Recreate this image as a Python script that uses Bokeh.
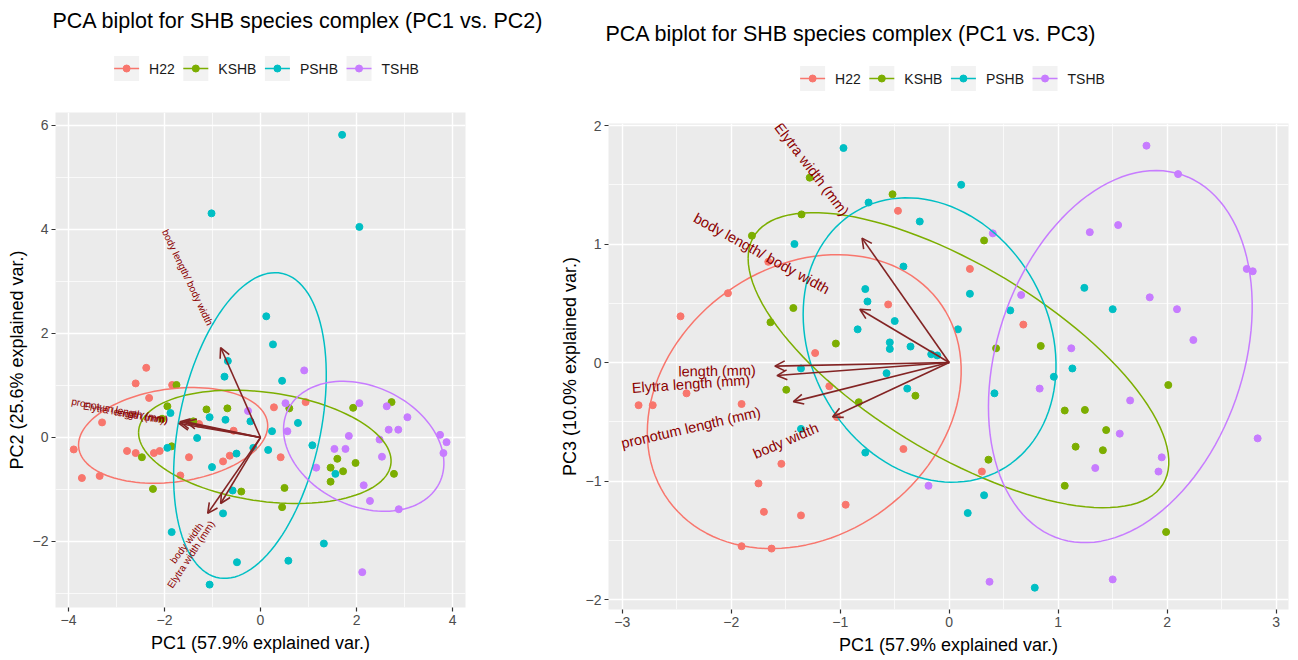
import numpy as np
from bokeh.plotting import figure
from bokeh.layouts import row, column
from bokeh.models import (ColumnDataSource, Arrow, OpenHead, FixedTicker, Range1d)
from bokeh.core.properties import value
from bokeh.embed import file_html
from bokeh.resources import INLINE

FONT = "Liberation Sans"
groups = ["H22", "KSHB", "PSHB", "TSHB"]
colors = ["#F8766D", "#7CAE00", "#00BFC4", "#C77CFF"]

# ---------------- PC1 vs PC2 scores ----------------
h22_pc1a = [-2.38, -2.60, -1.84, -2.32, -3.30, -1.28, -0.56, -3.89, -2.78, -2.60, -2.22, -2.10,
            -1.49, -0.78, -0.64, -3.72, -3.35, -1.67, 0.42, 0.28, 0.94]
h22_pc2 = [1.34, 1.04, 1.01, 0.76, 0.29, 0.26, 0.13, -0.23, -0.26, -0.30, -0.30, -0.26,
           -0.38, -0.46, -0.35, -0.78, -0.74, -0.73, -0.38, 0.58, 0.68]
kshb_pc1a = [-1.75, -1.94, -1.125, -0.69, -2.05, -1.40, -2.47, -1.85, -2.24, -0.40, 0.45, 0.60,
             1.93, 2.73, 1.60, 1.98, 1.46, 1.72, 1.46, 2.78, 0.50]
kshb_pc2 = [1.01, 0.60, 0.54, 0.56, 0.36, 0.31, -0.38, -0.17, -0.99, -1.04, -1.34, 0.56,
            0.57, 0.68, -0.41, -0.49, -0.58, -0.65, -0.85, -0.70, -0.97]
pshb_pc1a = [-1.02, 0.12, 0.26, -0.68, -0.75, 1.70, 2.06, 0.45, -1.875, -1.06, -0.73, -0.21,
             -1.32, 0.24, -1.94, -1.01, -0.50, -0.15, 0.16, -0.58, -0.78, -1.85, -0.49, -1.06,
             0.78, 1.08, 1.56, 1.32, 0.58]
pshb_pc2 = [4.31, 2.33, 1.79, 1.47, 1.17, 5.82, 4.05, 1.09, 0.47, 0.39, 0.34, 0.31,
            -0.01, 0.12, -0.20, -0.57, -0.31, -0.20, -0.24, -1.02, -1.46, -1.82, -2.40, -2.83,
            0.28, -0.15, -0.70, -2.04, -2.37]
tshb_pc1a = [0.91, -0.26, 0.52, 0.56, 2.06, 2.63, 3.06, 2.67, 2.87, 1.84, 2.48, 3.74, 3.875,
             3.81, 1.54, 1.77, 2.53, 1.16, 2.15, 2.28, 2.88, 2.12]
tshb_pc2 = [1.29, 0.51, 0.66, 0.12, 0.66, 0.60, 0.39, 0.15, 0.15, 0.03, -0.04, 0.05, -0.09,
            -0.30, -0.22, -0.22, -0.37, -0.58, -0.92, -1.22, -1.38, -2.59]

# ---------------- PC1 vs PC3 scores ----------------
h22_pc1b = [-0.47, -1.66, -2.03, -2.465, -0.56, -1.23, -2.41, -2.85, -2.72, -1.905, -1.10, -1.03,
            -0.42, -1.54, -1.75, -0.95, -1.70, -1.36, -1.905, -1.63, 0.19, 0.68, 0.30]
h22_pc3 = [1.28, 0.85, 0.585, 0.39, 0.49, 0.08, -0.26, -0.36, -0.36, -0.35, -0.20, -0.46,
           -0.73, -0.855, -1.02, -1.20, -1.26, -1.29, -1.55, -1.57, 0.79, 0.32, -0.92]
kshb_pc1b = [-1.28, -0.52, -1.355, -1.81, -1.43, -1.64, -1.04, -1.495, -0.31, -0.83, 0.32, 0.43,
             0.84, 2.01, 1.06, 1.245, 1.44, 1.16, 1.41, 0.36, 1.06, 1.99]
kshb_pc3 = [1.56, 1.42, 1.25, 1.07, 0.46, 0.34, 0.16, -0.23, -0.28, -0.335, 1.03, 0.12,
            0.14, -0.19, -0.405, -0.40, -0.57, -0.71, -0.74, -0.82, -1.04, -1.43]
pshb_pc1b = [-0.97, -0.74, -0.27, -1.42, -0.42, -0.77, -0.75, -0.50, -0.84, -0.545, -0.545,
             -0.355, -0.165, -0.11, -1.36, -0.575, 0.08, -0.385, -1.36, -0.77, 0.11, 0.19, 0.56,
             1.13, 0.96, 1.24, 1.50, 0.415, 0.32, 0.17, 0.785]
pshb_pc3 = [1.81, 1.35, 1.19, 1.00, 0.81, 0.62, 0.515, 0.35, 0.28, 0.17, 0.115, 0.135, 0.07,
            0.06, -0.05, -0.09, 0.28, -0.22, -0.56, -0.76, 1.50, 0.58, 0.44, -0.05, -0.12, 0.63,
            0.45, -0.26, -1.12, -1.27, -1.90]
tshb_pc1b = [0.40, 0.66, 1.12, 1.81, 2.10, 1.29, 1.55, 2.73, 2.785, 1.84, 2.09, 2.24, 0.83,
             1.66, 1.565, 1.95, 1.34, 1.92, 2.83, 0.37, 1.50, -0.19]
tshb_pc3 = [1.09, 0.57, 0.12, 1.83, 1.59, 1.10, 1.16, 0.79, 0.77, 0.55, 0.45, 0.19, -0.22,
            -0.32, -0.60, -0.80, -0.89, -0.92, -0.64, -1.85, -1.83, -1.04]

# ---------------- 68% concentration ellipses (centre, half extents, correlation) -------------
ell12_cx = [-1.82, 0.09, -0.22, 2.15]
ell12_cy = [0.04, -0.18, 0.23, -0.17]
ell12_rx = [1.97, 2.63, 1.59, 1.67]
ell12_ry = [0.92, 1.09, 2.94, 1.25]
ell12_rho = [0.20, -0.25, 0.33, -0.26]

ell13_cx = [-1.33, 0.085, -0.18, 1.57]
ell13_cy = [-0.33, 0.02, 0.19, 0.05]
ell13_rx = [1.44, 1.93, 1.16, 1.21]
ell13_ry = [1.24, 1.245, 1.20, 1.57]
ell13_rho = [0.21, -0.69, -0.18, 0.27]

# ---------------- variable loadings ----------------
var_names = ["body length/ body width", "pronotum length (mm)", "Elytra length (mm)",
             "length (mm)", "body width", "Elytra width (mm)"]
load12_x = [-0.83, -1.55, -1.68, -1.70, -1.10, -0.83]
load12_y = [1.73, 0.30, 0.30, 0.27, -1.46, -1.27]
lab12_x = [-1.52, -2.93, -2.85, -2.48, -1.54, -1.45]
lab12_y = [3.08, 0.52, 0.47, 0.41, -2.03, -2.25]

load13_x = [-0.82, -1.43, -1.58, -1.60, -1.07, -0.80]
load13_y = [0.45, -0.33, -0.11, -0.03, -0.46, 1.05]
lab13_x = [-1.72, -2.37, -2.37, -2.13, -1.50, -1.26]
lab13_y = [0.92, -0.55, -0.18, -0.07, -0.66, 1.63]

# approximate glyph advance widths (em) used to lay out the legend row
CHAR_W = {"H": 0.722, "2": 0.556, "K": 0.667, "S": 0.667, "B": 0.667, "P": 0.667, "T": 0.611}


def ellipse_xy(cx, cy, rx, ry, rho, n=120):
    t = np.linspace(-np.pi, np.pi, n)
    x = cx + rx * np.cos(t)
    y = cy + ry * (rho * np.cos(t) + np.sqrt(1 - rho ** 2) * np.sin(t))
    return x, y


def make_header(width, height, side, frame_x, top, title, title_offset, legend_cx, legend_y):
    """Title (as the figure title) plus a ggplot-style legend row drawn in pixel space."""
    h = figure(width=width, height=height, x_range=Range1d(*frame_x),
               y_range=Range1d(height, top), output_backend="svg", toolbar_location=None,
               min_border_left=side[0], min_border_right=side[1], min_border_top=top,
               min_border_bottom=0, x_axis_type=None, y_axis_type=None)
    h.grid.visible = False
    h.outline_line_color = None
    h.background_fill_color = "white"
    h.border_fill_color = "white"
    h.title.text = title
    h.title.align = "left"
    h.title.offset = title_offset
    h.title.standoff = 10
    h.title.text_font = FONT
    h.title.text_font_size = "21.5px"
    h.title.text_font_style = "normal"
    h.title.text_color = "black"

    key, standoff, spacing, fs = 25.0, 10.0, 8.5, 14.0
    label_w = [sum(CHAR_W[c] for c in g) * fs for g in groups]
    total = sum(key + standoff + w for w in label_w) + spacing * (len(groups) - 1)
    x = legend_cx - total / 2.0
    kx, tx = [], []
    for w in label_w:
        kx.append(x + key / 2.0)
        tx.append(x + key + standoff)
        x += key + standoff + w + spacing
    ky = [legend_y] * len(groups)
    h.rect(x=kx, y=ky, width=key, height=key, fill_color="#F2F2F2", line_color=None)
    h.segment(x0=[k - key / 2.0 for k in kx], y0=ky, x1=[k + key / 2.0 for k in kx], y1=ky,
              line_color=colors, line_width=1.5)
    h.scatter(x=kx, y=ky, size=7, fill_color=colors, line_color=colors)
    h.text(x=tx, y=ky, text=groups, text_font=value(FONT), text_font_size=value("14px"),
           text_align="left", text_baseline="middle", text_color="#1A1A1A")
    return h


def make_panel(width, height, borders, xr, yr, xticks, xminor, yticks, yminor,
               scores, ell, loads, labs, label_size, ylab):
    bl, br, bt, bb = borders
    p = figure(width=width, height=height, x_range=Range1d(*xr), y_range=Range1d(*yr),
               output_backend="svg", toolbar_location=None,
               min_border_left=bl, min_border_right=br, min_border_top=bt,
               min_border_bottom=bb)
    p.background_fill_color = "#EBEBEB"
    p.border_fill_color = "white"
    p.outline_line_color = None

    p.xaxis.ticker = FixedTicker(ticks=xticks, minor_ticks=xminor)
    p.yaxis.ticker = FixedTicker(ticks=yticks, minor_ticks=yminor)
    for g in (p.xgrid, p.ygrid):
        g.grid_line_color = "white"
        g.grid_line_width = 1.4
        g.minor_grid_line_color = "white"
        g.minor_grid_line_width = 0.7
    for ax in (p.xaxis, p.yaxis):
        ax.axis_line_color = None
        ax.major_tick_line_color = "#333333"
        ax.major_tick_line_width = 1.2
        ax.major_tick_out = 4
        ax.major_tick_in = 0
        ax.minor_tick_line_color = None
        ax.major_label_text_font = FONT
        ax.major_label_text_font_size = "14px"
        ax.major_label_text_color = "#4D4D4D"
        ax.major_label_standoff = 3
        ax.axis_label_text_font = FONT
        ax.axis_label_text_font_size = "18px"
        ax.axis_label_text_font_style = "normal"
        ax.axis_label_text_color = "black"
    p.xaxis.axis_label = "PC1 (57.9% explained var.)"
    p.yaxis.axis_label = ylab
    p.xaxis.axis_label_standoff = 5
    p.yaxis.axis_label_standoff = 3

    for i, g in enumerate(groups):
        xs, ys = scores[i]
        p.scatter(xs, ys, size=7, fill_color=colors[i], line_color=colors[i])
    for i, g in enumerate(groups):
        ex, ey = ellipse_xy(ell[0][i], ell[1][i], ell[2][i], ell[3][i], ell[4][i])
        p.line(ex, ey, line_color=colors[i], line_width=1.5)

    lx, ly = loads
    src = ColumnDataSource(dict(x0=[0.0] * len(lx), y0=[0.0] * len(lx), x1=lx, y1=ly))
    arrow_col = "#832424"
    p.add_layout(Arrow(x_start="x0", y_start="y0", x_end="x1", y_end="y1", source=src,
                       line_color=arrow_col, line_width=1.6,
                       end=OpenHead(size=10, line_color=arrow_col, line_width=1.6)))

    angles = [float(np.arctan(b / a)) for a, b in zip(lx, ly)]
    tsrc = ColumnDataSource(dict(x=labs[0], y=labs[1], text=var_names, angle=angles))
    p.text(x="x", y="y", text="text", angle="angle", source=tsrc,
           text_font=value(FONT), text_font_size=value(label_size),
           text_color="#8B0000", text_align="center", text_baseline="middle")
    return p


h1 = make_header(550, 100, (55, 85), (55, 465), 37,
                 "PCA biplot for SHB species complex (PC1 vs. PC2)", -3, 266, 68)
p1 = make_panel(550, 560, (55, 85, 12, 53),
                (-4.27, 4.27), (-3.27, 6.25), [-4, -2, 0, 2, 4], [-3, -1, 1, 3],
                [-2, 0, 2, 4, 6], [-3, -1, 1, 3, 5],
                [(h22_pc1a, h22_pc2), (kshb_pc1a, kshb_pc2), (pshb_pc1a, pshb_pc2),
                 (tshb_pc1a, tshb_pc2)],
                (ell12_cx, ell12_cy, ell12_rx, ell12_ry, ell12_rho),
                (load12_x, load12_y), (lab12_x, lab12_y), "10px",
                "PC2 (25.6% explained var.)")

h2 = make_header(748, 108, (58, 10), (608, 1288), 50,
                 "PCA biplot for SHB species complex (PC1 vs. PC3)", -3, 952, 78)
p2 = make_panel(748, 552, (58, 10, 15, 51),
                (-3.126, 3.113), (-2.084, 2.017), [-3, -2, -1, 0, 1, 2, 3],
                [-2.5, -1.5, -0.5, 0.5, 1.5, 2.5],
                [-2, -1, 0, 1, 2], [-1.5, -0.5, 0.5, 1.5],
                [(h22_pc1b, h22_pc3), (kshb_pc1b, kshb_pc3), (pshb_pc1b, pshb_pc3),
                 (tshb_pc1b, tshb_pc3)],
                (ell13_cx, ell13_cy, ell13_rx, ell13_ry, ell13_rho),
                (load13_x, load13_y), (lab13_x, lab13_y), "14.5px",
                "PC3 (10.0% explained var.)")

layout = row(column(h1, p1), column(h2, p2))
open("out.html", "w").write(file_html(layout, INLINE))
